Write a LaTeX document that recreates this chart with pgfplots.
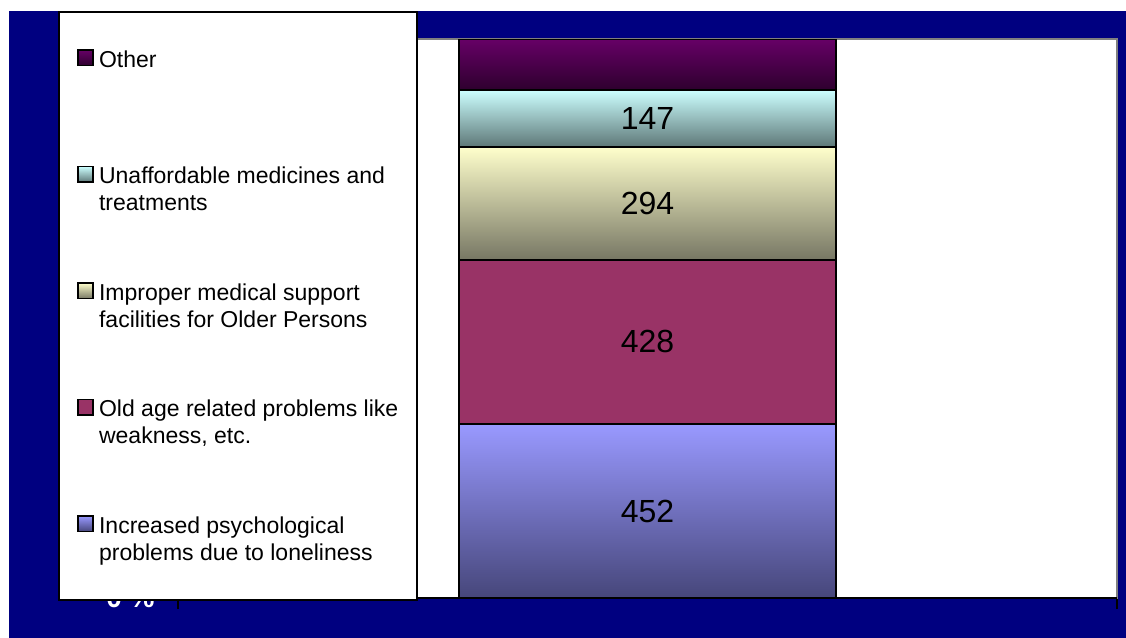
\documentclass[border=0pt]{standalone}
\usepackage{pgfplots}
\pgfplotsset{compat=1.18}
\usepackage{fontspec}
\setmainfont{Liberation Sans}

\definecolor{navybg}{HTML}{000080}
\definecolor{psyTop}{HTML}{9999FF}
\definecolor{psyBot}{HTML}{46467A}
\definecolor{oldAge}{HTML}{993366}
\definecolor{medTop}{HTML}{FFFFCC}
\definecolor{medBot}{HTML}{777764}
\definecolor{unaTop}{HTML}{CCFFFF}
\definecolor{unaBot}{HTML}{5E7878}
\definecolor{othTop}{HTML}{660066}
\definecolor{othBot}{HTML}{2E002E}

\newcommand{\entry}[1]{\parbox[t]{150pt}{\baselineskip=13.5pt\rule{0pt}{9pt}#1}}

\begin{document}
\begin{tikzpicture}
\fill[white] (0,0) rectangle (563pt,-319pt);
\fill[navybg] (4.5pt,-5.5pt) rectangle (563pt,-319pt);
\begin{axis}[
  at={(89pt,-299pt)}, anchor=south west,
  scale only axis, width=469.5pt, height=279.5pt,
  ybar stacked, bar width=188pt,
  xmin=-1, xmax=1, ymin=0, ymax=1454,
  axis background/.style={fill=white},
  axis line style={draw=gray, line width=1pt},
  xtick={-1,1}, xticklabels={}, xtick pos=left,
  tick align=outside, major tick length=5.5pt,
  xtick style={black, line width=1pt},
  ytick={0}, yticklabels={\textbf{0 \%}},
  ytick style={draw=none},
  yticklabel style={white, font=\fontsize{14}{16}\selectfont, inner sep=0pt, anchor=east, xshift=-6pt},
  /pgf/number format/assume math mode=true,
  every axis plot/.append style={draw=black, line width=1pt},
  nodes near coords style={font=\fontsize{16}{19}\selectfont, black},
  reverse legend,
  legend cell align=left,
  legend image code/.code={\draw[#1, draw=black, line width=0.8pt] (0pt,0.75pt) rectangle (7.75pt,8.5pt);},
  legend style={
    at={(axis description cs:-0.1278,1.0501)}, anchor=north west,
    draw=black, line width=1pt, fill=white,
    inner xsep=9pt, inner ysep=18.5pt,
    row sep=0pt, column sep=2.5pt,
    font=\fontsize{11.5}{13.5}\selectfont,
    nodes={inner sep=0pt, anchor=base west},
  },
]
\addplot[top color=psyTop, bottom color=psyBot, nodes near coords] coordinates {(0,452)};
\addlegendentry[text height=9pt, text depth=15pt]{\entry{Increased psychological\\problems due to loneliness}}
\addplot[fill=oldAge, nodes near coords] coordinates {(0,428)};
\addlegendentry[text height=9pt, text depth=49.25pt]{\entry{Old age related problems like\\weakness, etc.}}
\addplot[top color=medTop, bottom color=medBot, nodes near coords] coordinates {(0,294)};
\addlegendentry[text height=9pt, text depth=49.25pt]{\entry{Improper medical support\\facilities for Older Persons}}
\addplot[top color=unaTop, bottom color=unaBot, nodes near coords] coordinates {(0,147)};
\addlegendentry[text height=9pt, text depth=49.25pt]{\entry{Unaffordable medicines and\\treatments}}
\addplot[top color=othTop, bottom color=othBot] coordinates {(0,133)};
\addlegendentry[text height=9pt, text depth=49.25pt]{\entry{Other}}
\draw[black, line width=1pt] (rel axis cs:0,0) -- (rel axis cs:1,0);
\end{axis}
\pgfresetboundingbox
\path[use as bounding box] (0,0) rectangle (563pt,-319pt);
\end{tikzpicture}
\end{document}
